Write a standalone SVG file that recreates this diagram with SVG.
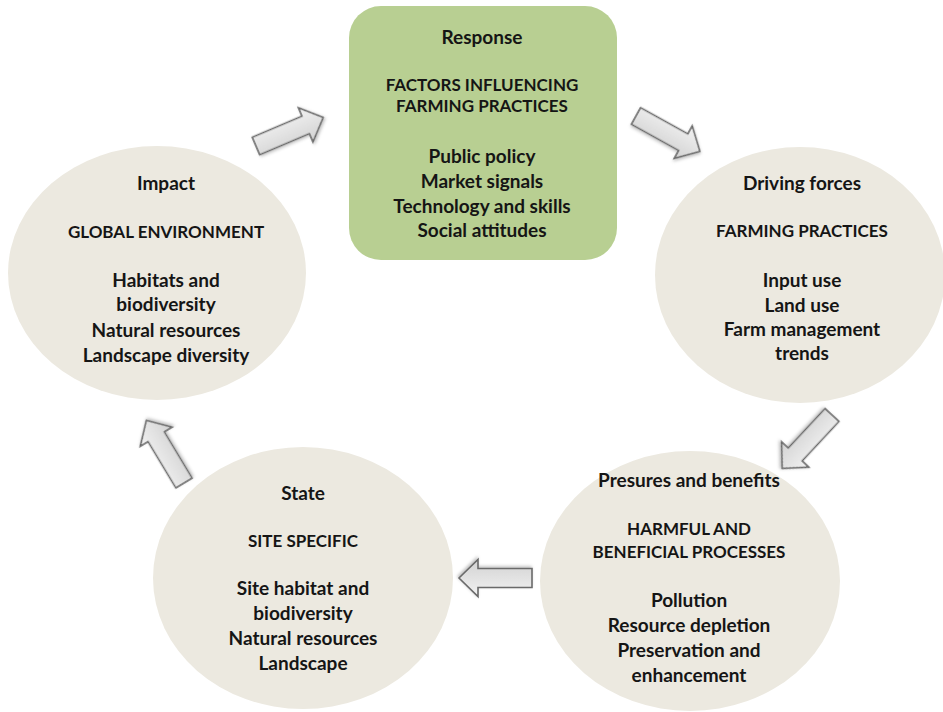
<svg xmlns="http://www.w3.org/2000/svg" width="943" height="712" viewBox="0 0 943 712">
  <style>
    .oval { fill: #ece9e0; }
    .box { fill: #b8cf92; }
    .t { font-family: Lato, "Liberation Sans", sans-serif; font-weight: bold; font-size: 19px; fill: #151515; text-anchor: middle; }
    .c { font-size: 17px; }
    .arrow { fill: url(#arrowFill); stroke: #6a6a6a; stroke-width: 1.6; stroke-linejoin: miter; filter: url(#soft); }
  </style>
  <defs>
    <linearGradient id="arrowFill" x1="0" y1="0" x2="0" y2="1">
      <stop offset="0" stop-color="#f2f2f2"/>
      <stop offset="1" stop-color="#d2d2d2"/>
    </linearGradient>
    <filter id="soft" x="-20%" y="-40%" width="140%" height="180%">
      <feDropShadow dx="1" dy="1.5" stdDeviation="1.5" flood-color="#000" flood-opacity="0.25"/>
    </filter>
    <!-- block arrow pointing along +x, tail at origin -->
    <path id="blockArrow" d="M0,-9.5 L54,-9.5 L54,-18.5 L73,0 L54,18.5 L54,9.5 L0,9.5 Z"/>
  </defs>

  <rect width="943" height="712" fill="#ffffff"/>

  <g id="response">
    <rect class="box" x="349" y="6" width="268" height="254" rx="32" ry="32"/>
    <text class="t" x="482" y="44">Response</text>
    <text class="t c" x="482" y="91">FACTORS INFLUENCING</text>
    <text class="t c" x="482" y="112">FARMING PRACTICES</text>
    <text class="t" x="482" y="163">Public policy</text>
    <text class="t" x="482" y="188">Market signals</text>
    <text class="t" x="482" y="213">Technology and skills</text>
    <text class="t" x="482" y="237">Social attitudes</text>
  </g>

  <g id="driving-forces">
    <ellipse class="oval" cx="800" cy="275" rx="145" ry="128"/>
    <text class="t" x="802" y="190">Driving forces</text>
    <text class="t c" x="802" y="237">FARMING PRACTICES</text>
    <text class="t" x="802" y="287">Input use</text>
    <text class="t" x="802" y="312">Land use</text>
    <text class="t" x="802" y="336">Farm management</text>
    <text class="t" x="802" y="360">trends</text>
  </g>

  <g id="pressures">
    <ellipse class="oval" cx="690" cy="581" rx="150" ry="130"/>
    <text class="t" x="689" y="487">Presures and benefits</text>
    <text class="t c" x="689" y="535">HARMFUL AND</text>
    <text class="t c" x="689" y="558">BENEFICIAL PROCESSES</text>
    <text class="t" x="689" y="607">Pollution</text>
    <text class="t" x="689" y="632">Resource depletion</text>
    <text class="t" x="689" y="657">Preservation and</text>
    <text class="t" x="689" y="682">enhancement</text>
  </g>

  <g id="state">
    <ellipse class="oval" cx="303" cy="578" rx="150" ry="131"/>
    <text class="t" x="303" y="500">State</text>
    <text class="t c" x="303" y="547">SITE SPECIFIC</text>
    <text class="t" x="303" y="595">Site habitat and</text>
    <text class="t" x="303" y="620">biodiversity</text>
    <text class="t" x="303" y="645">Natural resources</text>
    <text class="t" x="303" y="670">Landscape</text>
  </g>

  <g id="impact">
    <ellipse class="oval" cx="157" cy="273" rx="149" ry="127"/>
    <text class="t" x="166" y="190">Impact</text>
    <text class="t c" x="166" y="238">GLOBAL ENVIRONMENT</text>
    <text class="t" x="166" y="287">Habitats and</text>
    <text class="t" x="166" y="311">biodiversity</text>
    <text class="t" x="166" y="337">Natural resources</text>
    <text class="t" x="166" y="362">Landscape diversity</text>
  </g>

  <g id="connectors">
    <use class="arrow" href="#blockArrow" transform="translate(256,146) rotate(-23)"/>
    <use class="arrow" href="#blockArrow" transform="translate(636,116) rotate(29)"/>
    <use class="arrow" href="#blockArrow" transform="translate(832,415) rotate(133)"/>
    <use class="arrow" href="#blockArrow" transform="translate(532,578) rotate(180)"/>
    <use class="arrow" href="#blockArrow" transform="translate(184,483) rotate(-121)"/>
  </g>
</svg>
